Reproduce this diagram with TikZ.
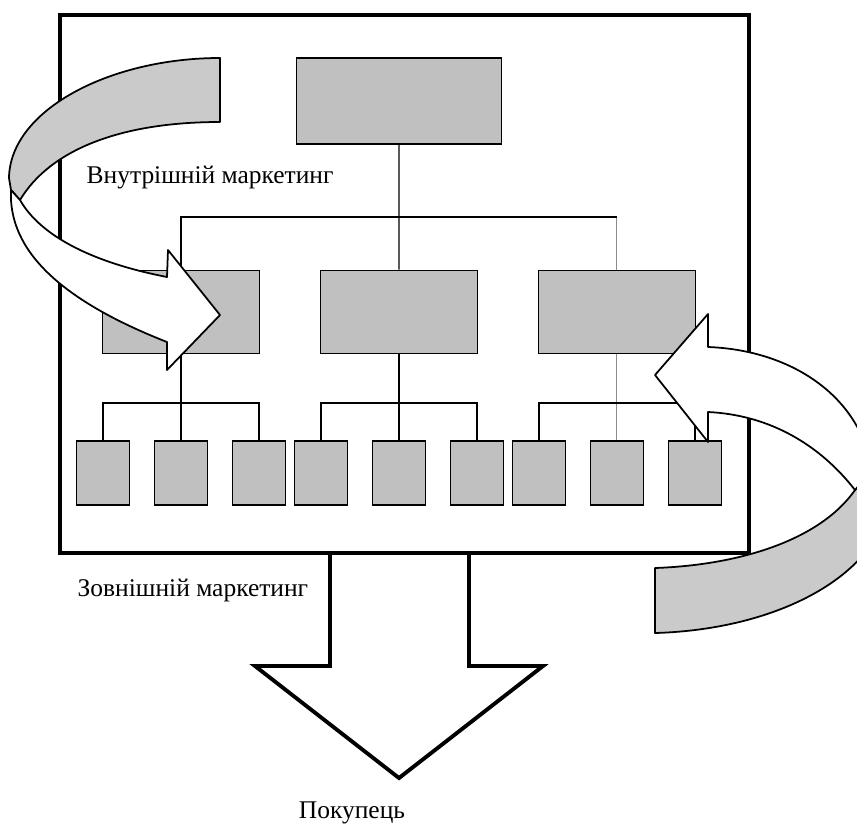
\documentclass[tikz,border=0pt]{standalone}
\usepackage{fontspec}
\setmainfont{Liberation Serif}
\usepackage{tikz}
\usetikzlibrary{arrows,positioning}
\definecolor{boxgray}{RGB}{192,192,192}
\definecolor{bandgray}{RGB}{202,202,202}

\begin{document}
\begin{tikzpicture}[x=0.02cm,y=-0.02cm,line width=0.8pt,node distance=4.36cm]
  \tikzstyle{head}=[draw,line width=1pt,fill=boxgray,inner sep=0pt,minimum width=4.1cm,minimum height=1.72cm]
  \tikzstyle{unit}=[draw,line width=1pt,fill=boxgray,inner sep=0pt,minimum width=3.14cm,minimum height=1.66cm]
  \tikzstyle{leaf}=[draw,line width=1pt,fill=boxgray,inner sep=0pt,minimum width=1.06cm,minimum height=1.28cm]
  \tikzstyle{faint}=[draw=black!45,line width=0.5pt]
  \tikzstyle{frame}=[line width=2.2pt,line join=miter]
  \tikzstyle{ribbon}=[draw,line width=1pt,line join=round]
  \tikzstyle{lbl}=[inner sep=0pt,font=\fontsize{14.5}{17}\selectfont]

  \useasboundingbox (0,0) rectangle (857,825);
  \clip (0,0) rectangle (857,825);

  % outer frame of the firm
  \draw[frame] (60,15) rectangle (749,553);

  \node[head]  (top)                  at (399,101) {};
  \node[unit]  (m1)                   at (181,312) {};
  \node[unit]  (m2)  [right of=m1]    {};
  \node[unit]  (m3)  [right of=m2]    {};

  \node[leaf]  (s2)  [below of=m1,node distance=3.22cm] {};
  \node[leaf]  (s1)  [left of=s2,node distance=1.56cm]  {};
  \node[leaf]  (s3)  [right of=s2,node distance=1.56cm] {};
  \node[leaf]  (s5)  [below of=m2,node distance=3.22cm] {};
  \node[leaf]  (s4)  [left of=s5,node distance=1.56cm]  {};
  \node[leaf]  (s6)  [right of=s5,node distance=1.56cm] {};
  \node[leaf]  (s8)  [below of=m3,node distance=3.22cm] {};
  \node[leaf]  (s7)  [left of=s8,node distance=1.56cm]  {};
  \node[leaf]  (s9)  [right of=s8,node distance=1.56cm] {};

  \coordinate (tbar) at (399,217);
  \coordinate (tend) at (m3 |- tbar);
  \coordinate (g1) at (m1 |- 0,403);
  \coordinate (g2) at (m2 |- 0,403);
  \coordinate (g3) at (m3 |- 0,403);

  \path (top) edge (m2)
        (m1)  edge (s2)
        (m2)  edge (s5);
  \path[faint] (m3) edge (s8)
               (tend) edge (m3);
  \draw (m1) |- (tbar) -- (tend);
  \draw (s1) |- (g1) -| (s3);
  \draw (s4) |- (g2) -| (s6);
  \draw (s7) |- (g3) -| (s9);

  % left ribbon (inner marketing)
  \filldraw[ribbon,fill=bandgray] (220,58) .. controls (110,58) and (10,110) .. (9,178)
        -- (11,190) -- (20,200) .. controls (50,150) and (120,122) .. (220,122) -- cycle;
  \filldraw[ribbon,fill=white] (11,190) .. controls (8,250) and (60,300) .. (167,342)
        -- (167,370) -- (220,315) -- (168,250) -- (167,277)
        .. controls (90,262) and (40,235) .. (20,200) -- cycle;

  % right ribbon (outer marketing)
  \filldraw[ribbon,fill=bandgray] (855,490) .. controls (820,540) and (740,565) .. (655,568)
        -- (655,633) .. controls (760,630) and (850,590) .. (880,530) -- (872,470) -- cycle;
  \filldraw[ribbon,fill=white] (708,347) .. controls (790,350) and (860,395) .. (872,470)
        -- (855,490) .. controls (820,445) and (770,415) .. (708,412)
        -- (708,442) -- (655,375) -- (708,314) -- cycle;

  % arrow to the buyer
  \draw[frame] (330,553) -- (330,666) -- (255,666) -- (399,778) -- (543,666)
        -- (469,666) -- (469,553);

  \node[lbl,anchor=west] (inner) at (86,178) {Внутрішній маркетинг};
  \node[lbl,anchor=west] (outer) at (77,590) {Зовнішній маркетинг};
  \node[lbl]             (buyer) at (352,813) {Покупець};
\end{tikzpicture}
\end{document}
